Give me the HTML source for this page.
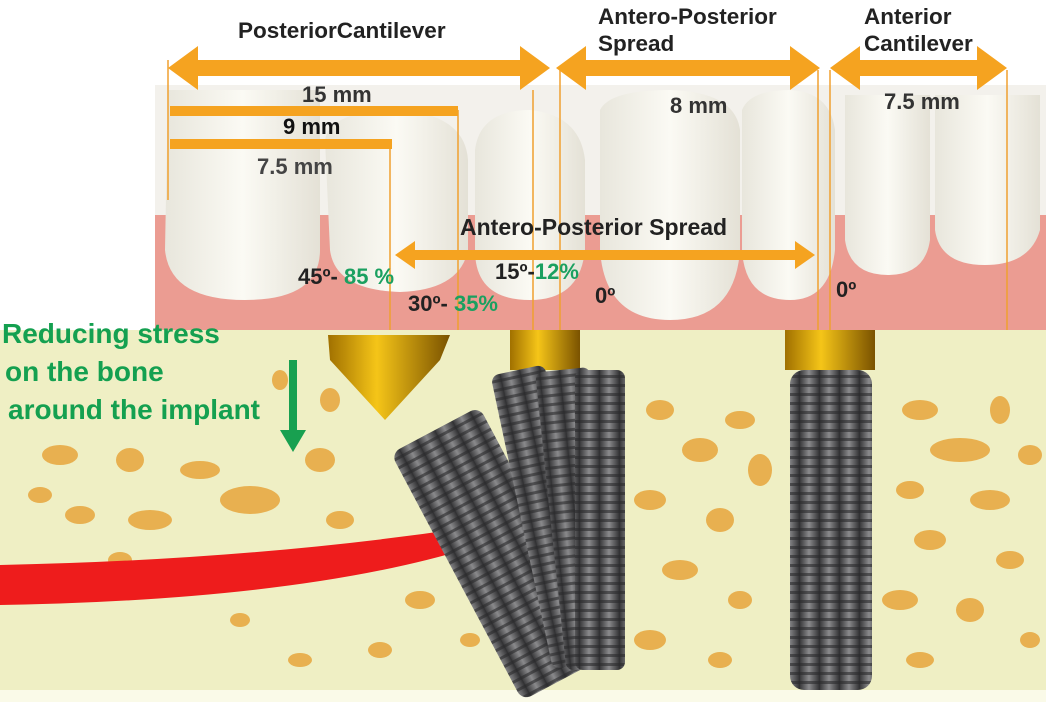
<!DOCTYPE html>
<html><head><style>
html,body{margin:0;padding:0;background:#fff}
svg{display:block}
text{font-family:"Liberation Sans",sans-serif;font-weight:bold}
</style></head><body>
<svg width="1046" height="702" viewBox="0 0 1046 702" xmlns="http://www.w3.org/2000/svg">
<defs>
<linearGradient id="tooth" x1="0" y1="0" x2="1" y2="0">
<stop offset="0" stop-color="#e8e6dc"/><stop offset="0.5" stop-color="#fbfaf4"/><stop offset="1" stop-color="#e4e1d6"/>
</linearGradient>
<linearGradient id="metal" x1="0" y1="0" x2="1" y2="0">
<stop offset="0" stop-color="#3a3a3c"/><stop offset="0.45" stop-color="#8a8a8c"/><stop offset="1" stop-color="#2e2e30"/>
</linearGradient>
<linearGradient id="gold" x1="0" y1="0" x2="1" y2="0">
<stop offset="0" stop-color="#a07000"/><stop offset="0.4" stop-color="#f5c518"/><stop offset="1" stop-color="#7a5200"/>
</linearGradient>
<pattern id="thread" width="20" height="9" patternUnits="userSpaceOnUse">
<rect width="20" height="9" fill="url(#metal)"/>
<rect y="6" width="20" height="3" fill="#2a2a2c" opacity="0.6"/>
</pattern>
</defs>
<rect x="0" y="330" width="1046" height="372" fill="#efefc4"/>
<rect x="0" y="690" width="1046" height="12" fill="#fafae8"/>
<g fill="#e8b050">
<ellipse cx="60" cy="455" rx="18" ry="10"/><ellipse cx="130" cy="460" rx="14" ry="12"/><ellipse cx="200" cy="470" rx="20" ry="9"/>
<ellipse cx="250" cy="500" rx="30" ry="14"/><ellipse cx="80" cy="515" rx="15" ry="9"/><ellipse cx="150" cy="520" rx="22" ry="10"/>
<ellipse cx="40" cy="495" rx="12" ry="8"/><ellipse cx="320" cy="460" rx="15" ry="12"/><ellipse cx="340" cy="520" rx="14" ry="9"/>
<ellipse cx="280" cy="380" rx="8" ry="10"/><ellipse cx="330" cy="400" rx="10" ry="12"/><ellipse cx="120" cy="560" rx="12" ry="8"/>
<ellipse cx="420" cy="600" rx="15" ry="9"/><ellipse cx="380" cy="650" rx="12" ry="8"/><ellipse cx="470" cy="640" rx="10" ry="7"/>
<ellipse cx="660" cy="410" rx="14" ry="10"/><ellipse cx="700" cy="450" rx="18" ry="12"/><ellipse cx="740" cy="420" rx="15" ry="9"/>
<ellipse cx="650" cy="500" rx="16" ry="10"/><ellipse cx="720" cy="520" rx="14" ry="12"/><ellipse cx="760" cy="470" rx="12" ry="16"/>
<ellipse cx="680" cy="570" rx="18" ry="10"/><ellipse cx="740" cy="600" rx="12" ry="9"/><ellipse cx="650" cy="640" rx="16" ry="10"/>
<ellipse cx="720" cy="660" rx="12" ry="8"/><ellipse cx="920" cy="410" rx="18" ry="10"/><ellipse cx="1000" cy="410" rx="10" ry="14"/>
<ellipse cx="960" cy="450" rx="30" ry="12"/><ellipse cx="1030" cy="455" rx="12" ry="10"/><ellipse cx="910" cy="490" rx="14" ry="9"/>
<ellipse cx="990" cy="500" rx="20" ry="10"/><ellipse cx="930" cy="540" rx="16" ry="10"/><ellipse cx="1010" cy="560" rx="14" ry="9"/>
<ellipse cx="900" cy="600" rx="18" ry="10"/><ellipse cx="970" cy="610" rx="14" ry="12"/><ellipse cx="1030" cy="640" rx="10" ry="8"/>
<ellipse cx="920" cy="660" rx="14" ry="8"/><ellipse cx="240" cy="620" rx="10" ry="7"/><ellipse cx="300" cy="660" rx="12" ry="7"/>
</g>
<path d="M0 565 Q250 560 465 528 L470 548 Q300 600 0 605 Z" fill="#ee1c1c"/>
<rect x="155" y="85" width="891" height="245" fill="#f3f1ec"/>
<rect x="155" y="215" width="891" height="115" fill="#eb9c92"/>
<g fill="url(#tooth)">
<path d="M168 90 H320 V250 Q320 300 245 300 Q170 300 165 250 Z"/>
<path d="M325 140 Q330 110 400 110 Q465 115 468 160 V250 Q460 290 400 292 Q335 290 330 250 Z"/>
<path d="M475 150 Q480 110 530 110 Q580 115 585 160 V250 Q580 300 530 300 Q475 300 475 250 Z"/>
<path d="M600 110 Q610 90 670 90 Q735 92 740 130 V250 Q735 320 670 320 Q605 320 600 250 Z"/>
<path d="M742 110 Q750 90 790 90 Q830 92 835 130 V250 Q830 300 790 300 Q745 300 742 250 Z"/>
<path d="M845 95 H930 V240 Q925 275 888 275 Q850 275 845 240 Z"/>
<path d="M935 95 H1040 V230 Q1030 265 985 265 Q940 265 935 230 Z"/>
</g>
<g stroke="#f0a030" stroke-width="1.5">
<line x1="168" y1="60" x2="168" y2="200"/><line x1="390" y1="140" x2="390" y2="330"/>
<line x1="458" y1="110" x2="458" y2="330"/><line x1="533" y1="90" x2="533" y2="330"/>
<line x1="560" y1="70" x2="560" y2="330"/><line x1="818" y1="70" x2="818" y2="330"/>
<line x1="830" y1="70" x2="830" y2="330"/><line x1="1007" y1="70" x2="1007" y2="330"/>
</g>
<g fill="#f5a320">
<path d="M168 68 L198 46 V60 H520 V46 L550 68 L520 90 V76 H198 V90 Z"/>
<path d="M556 68 L586 46 V60 H790 V46 L820 68 L790 90 V76 H586 V90 Z"/>
<path d="M830 68 L860 46 V60 H977 V46 L1007 68 L977 90 V76 H860 V90 Z"/>
<rect x="170" y="106" width="288" height="10"/>
<rect x="170" y="139" width="222" height="10"/>
<path d="M395 255 L415 241 V250 H795 V241 L815 255 L795 269 V260 H415 V269 Z"/>
</g>
<g>
<path d="M328 335 H450 L440 360 L385 420 L330 360 Z" fill="url(#gold)"/>
<g transform="translate(435 430) rotate(-28)">
<rect x="-50" y="0" width="100" height="280" rx="10" fill="url(#thread)"/>
</g>
<rect x="510" y="330" width="70" height="40" fill="url(#gold)"/>
<rect x="490" y="370" width="55" height="300" rx="8" fill="url(#thread)" transform="rotate(-12 518 370)"/>
<rect x="535" y="370" width="55" height="300" rx="8" fill="url(#thread)" transform="rotate(-6 560 370)"/>
<rect x="575" y="370" width="50" height="300" rx="8" fill="url(#thread)"/>
<rect x="785" y="330" width="90" height="40" fill="url(#gold)"/>
<rect x="790" y="370" width="82" height="320" rx="14" fill="url(#thread)"/>
</g>
<path d="M289 360 V430 H280 L293 452 L306 430 H297 V360 Z" fill="#18a050"/>
<g fill="#222">
<text x="238" y="38" font-size="22.5">PosteriorCantilever</text>
<text x="598" y="24" font-size="22.5">Antero-Posterior</text>
<text x="598" y="51" font-size="22.5">Spread</text>
<text x="864" y="24" font-size="22.5">Anterior</text>
<text x="864" y="51" font-size="22.5">Cantilever</text>
<text x="302" y="102" font-size="22" fill="#333">15 mm</text>
<text x="283" y="134" font-size="22" fill="#111">9 mm</text>
<text x="257" y="174" font-size="22" fill="#444">7.5 mm</text>
<text x="670" y="113" font-size="22" fill="#333">8 mm</text>
<text x="884" y="109" font-size="22" fill="#333">7.5 mm</text>
<text x="460" y="235" font-size="23">Antero-Posterior  Spread</text>
<text x="298" y="284" font-size="22" font-weight="normal">45º- <tspan fill="#1aa060" font-weight="bold">85 %</tspan></text>
<text x="408" y="311" font-size="22" font-weight="normal">30º- <tspan fill="#1aa060" font-weight="bold">35%</tspan></text>
<text x="495" y="279" font-size="22" font-weight="normal">15º-<tspan fill="#1aa060" font-weight="bold">12%</tspan></text>
<text x="595" y="303" font-size="22" font-weight="normal">0º</text>
<text x="836" y="297" font-size="22" font-weight="normal">0º</text>
</g>
<g fill="#14a050" font-size="28">
<text x="2" y="343">Reducing stress</text>
<text x="5" y="381">on the bone</text>
<text x="8" y="419">around the implant</text>
</g>
</svg>
</body></html>
